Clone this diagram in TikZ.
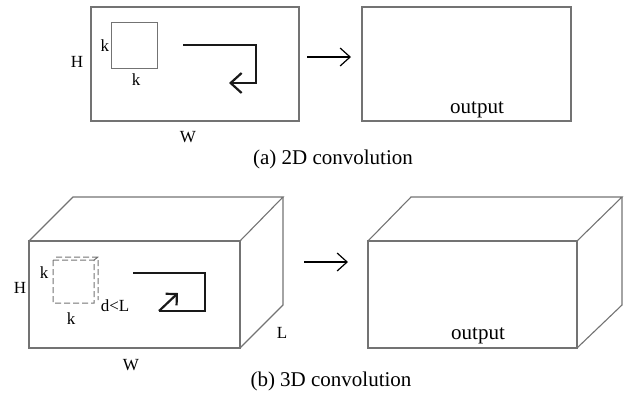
\documentclass[tikz,border=0pt]{standalone}
\usepackage{fontspec}
\setmainfont{Liberation Serif}
\usetikzlibrary{arrows.meta}
\begin{document}
\begin{tikzpicture}[x=0.5pt, y=-0.5pt, >={Straight Barb[length=5pt,width=9pt]},
  box/.style={draw=black!55, line width=0.55pt},
  scanpath/.style={draw=black!90, line width=1.1pt},
  lbl/.style={font=\fontsize{8.5}{10}\selectfont, inner sep=1pt},
  captext/.style={font=\fontsize{10.5}{12}\selectfont, inner sep=1pt}]
  \useasboundingbox (0,0) rectangle (633,398);

  % (a) 2D convolution
  \draw[box] (91,7) rectangle (299,121);
  \draw[draw=black!55, line width=0.5pt] (111,22) rectangle (157,68);
  \node[lbl] (k1) at (105,46) {k};
  \node[lbl] (k2) at (136,80) {k};
  \node[lbl] (h1) at (77,62) {H};
  \node[lbl] (w1) at (188,137) {W};
  \draw[scanpath, -{Straight Barb[length=5.5pt,width=10pt]}] (183,45) -- (256,45) -- (256,83) -- (229,83);
  \draw[box] (362,7) rectangle (571,121);
  \node[captext] (out1) at (477,110) {output};
  \coordinate (a1) at (307,57);
  \coordinate (a2) at (351,57);
  \draw[->, line width=0.6pt] (a1) -- (a2);
  \node[captext] (capa) at (333,159) {(a) 2D convolution};

  % (b) 3D convolution
  \draw[box] (29,241) rectangle (240,348);
  \draw[box] (29,241) -- (73,197) -- (283,197) -- (240,241);
  \draw[box] (283,197) -- (283,305) -- (240,348);
  \draw[draw=black!55, line width=0.5pt, dash pattern=on 3pt off 1.5pt]
    (53,260) rectangle (94,303)
    (56,257) -- (98,257) -- (98,300)
    (94,260) -- (98,257);
  \node[lbl] (k3) at (44,273) {k};
  \node[lbl] (k4) at (71,319) {k};
  \node[lbl] (dl) at (115,306) {d<L};
  \node[lbl] (h2) at (20,288) {H};
  \node[lbl] (w2) at (131,365) {W};
  \node[lbl] (l2) at (282,333) {L};
  \draw[scanpath] (133,273) -- (205,273) -- (205,311) -- (159,311);
  \draw[scanpath, -{Straight Barb[length=4pt,width=8pt]}] (159,311) -- (178,293);
  \draw[box] (368,241) rectangle (577,348);
  \draw[box] (368,241) -- (411,197) -- (622,197) -- (577,241);
  \draw[box] (622,197) -- (622,305) -- (577,348);
  \node[captext] (out2) at (478,336) {output};
  \coordinate (b1) at (304,262);
  \coordinate (b2) at (348,262);
  \draw[->, line width=0.6pt] (b1) -- (b2);
  \node[captext] (capb) at (331,381) {(b) 3D convolution};
\end{tikzpicture}
\end{document}
